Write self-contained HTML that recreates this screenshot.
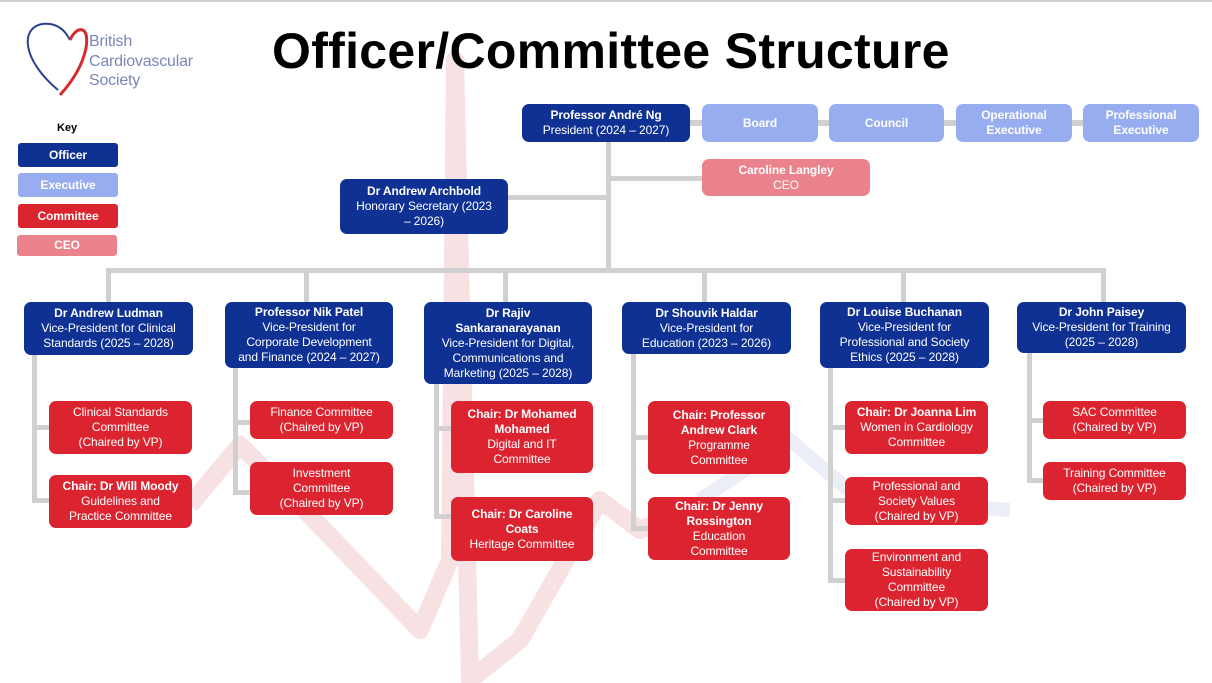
<!DOCTYPE html>
<html><head><meta charset="utf-8"><style>
*{margin:0;padding:0;box-sizing:border-box}
body{width:1212px;height:683px;position:relative;background:#fff;font-family:"Liberation Sans",sans-serif;overflow:hidden}
.b{position:absolute;border-radius:7px;color:#fff;font-size:12px;line-height:15px;text-align:center;display:flex;flex-direction:column;justify-content:center;align-items:center;white-space:nowrap;letter-spacing:-0.1px}
.b b{font-weight:bold}
.o{background:#0f3193}.e{background:#98adf0;font-weight:bold}.c{background:#dc2430}.ceo{background:#ea838b}
.l{position:absolute;background:#d0d0d0}
</style></head><body>
<div class="l" style="left:0;top:0;width:1212px;height:2px;background:#cfcfcf"></div>
<svg style="position:absolute;left:0;top:0" width="1212" height="683">
<g fill="none" stroke="#f7e1e3" stroke-width="18" stroke-linejoin="round">
<polyline points="190,505 240,445 300,505 420,630 450,560 455,60 470,680 520,640 600,500 640,530 700,505"/>
</g>
<g fill="none" stroke="#eceef7" stroke-width="14">
<polyline points="700,500 790,440 860,500 1010,510"/>
</g>
<path d="M58,90 C22,60 20,28 42,24 C58,22 66,32 70,40" fill="none" stroke="#2a3f8f" stroke-width="2"/>
<path d="M70,40 C76,26 90,24 86,48 C82,68 70,84 60,95" fill="none" stroke="#d42a30" stroke-width="3"/>
</svg>
<div style="position:absolute;left:89px;top:32px;color:#7c86b8;font-size:16px;line-height:19.5px;letter-spacing:-0.2px">British<br>Cardiovascular<br>Society</div>
<div style="position:absolute;left:272px;top:22px;font-size:50px;font-weight:bold;color:#000;letter-spacing:0.3px">Officer/Committee Structure</div>
<div style="position:absolute;left:57px;top:122px;font-size:11px;font-weight:bold">Key</div>
<div class="b o" style="left:18px;top:143px;width:100px;height:24px;border-radius:3px"><b>Officer</b></div>
<div class="b e" style="left:18px;top:173px;width:100px;height:24px;border-radius:3px">Executive</div>
<div class="b c" style="left:18px;top:204px;width:100px;height:24px;border-radius:3px"><b>Committee</b></div>
<div class="b ceo" style="left:17px;top:235px;width:100px;height:21px;border-radius:3px"><b>CEO</b></div>

<div class="l" style="left:690px;top:120px;width:400px;height:6px"></div>
<div class="l" style="left:606px;top:142px;width:5px;height:130px"></div>
<div class="l" style="left:608px;top:176px;width:94px;height:5px"></div>
<div class="l" style="left:508px;top:195px;width:100px;height:5px"></div>
<div class="l" style="left:106px;top:268px;width:1000px;height:5px"></div>
<div class="l" style="left:106px;top:270px;width:5px;height:32px"></div>
<div class="l" style="left:304px;top:270px;width:5px;height:32px"></div>
<div class="l" style="left:503px;top:270px;width:5px;height:32px"></div>
<div class="l" style="left:702px;top:270px;width:5px;height:32px"></div>
<div class="l" style="left:901px;top:270px;width:5px;height:32px"></div>
<div class="l" style="left:1101px;top:270px;width:5px;height:32px"></div>
<div class="l" style="left:32px;top:355px;width:5px;height:148px"></div>
<div class="l" style="left:32px;top:425px;width:18px;height:5px"></div>
<div class="l" style="left:32px;top:498px;width:18px;height:5px"></div>
<div class="l" style="left:233px;top:368px;width:5px;height:127px"></div>
<div class="l" style="left:233px;top:420px;width:18px;height:5px"></div>
<div class="l" style="left:233px;top:490px;width:18px;height:5px"></div>
<div class="l" style="left:434px;top:384px;width:5px;height:135px"></div>
<div class="l" style="left:434px;top:426px;width:18px;height:5px"></div>
<div class="l" style="left:434px;top:514px;width:18px;height:5px"></div>
<div class="l" style="left:631px;top:354px;width:5px;height:177px"></div>
<div class="l" style="left:631px;top:435px;width:18px;height:5px"></div>
<div class="l" style="left:631px;top:526px;width:18px;height:5px"></div>
<div class="l" style="left:828px;top:368px;width:5px;height:215px"></div>
<div class="l" style="left:828px;top:425px;width:18px;height:5px"></div>
<div class="l" style="left:828px;top:498px;width:18px;height:5px"></div>
<div class="l" style="left:828px;top:578px;width:18px;height:5px"></div>
<div class="l" style="left:1027px;top:353px;width:5px;height:130px"></div>
<div class="l" style="left:1027px;top:418px;width:18px;height:5px"></div>
<div class="l" style="left:1027px;top:478px;width:18px;height:5px"></div>

<div class="b o" style="left:522px;top:104px;width:168px;height:38px"><b>Professor André Ng</b>President (2024 – 2027)</div>
<div class="b e" style="left:702px;top:104px;width:116px;height:38px">Board</div>
<div class="b e" style="left:829px;top:104px;width:115px;height:38px">Council</div>
<div class="b e" style="left:956px;top:104px;width:116px;height:38px">Operational<br>Executive</div>
<div class="b e" style="left:1083px;top:104px;width:116px;height:38px">Professional<br>Executive</div>
<div class="b ceo" style="left:702px;top:159px;width:168px;height:37px"><b>Caroline Langley</b>CEO</div>
<div class="b o" style="left:340px;top:179px;width:168px;height:55px"><b>Dr Andrew Archbold</b>Honorary Secretary (2023<br>– 2026)</div>

<div class="b o" style="left:24px;top:302px;width:169px;height:53px"><b>Dr Andrew Ludman</b>Vice-President for Clinical<br>Standards (2025 – 2028)</div>
<div class="b o" style="left:225px;top:302px;width:168px;height:66px"><b>Professor Nik Patel</b>Vice-President for<br>Corporate Development<br>and Finance (2024 – 2027)</div>
<div class="b o" style="left:424px;top:302px;width:168px;height:82px"><b>Dr Rajiv</b><b>Sankaranarayanan</b>Vice-President for Digital,<br>Communications and<br>Marketing (2025 – 2028)</div>
<div class="b o" style="left:622px;top:302px;width:169px;height:52px"><b>Dr Shouvik Haldar</b>Vice-President for<br>Education (2023 – 2026)</div>
<div class="b o" style="left:820px;top:302px;width:169px;height:66px"><b>Dr Louise Buchanan</b>Vice-President for<br>Professional and Society<br>Ethics (2025 – 2028)</div>
<div class="b o" style="left:1017px;top:302px;width:169px;height:51px"><b>Dr John Paisey</b>Vice-President for Training<br>(2025 – 2028)</div>

<div class="b c" style="left:49px;top:401px;width:143px;height:53px">Clinical Standards<br>Committee<br>(Chaired by VP)</div>
<div class="b c" style="left:49px;top:475px;width:143px;height:53px"><b>Chair: Dr Will Moody</b>Guidelines and<br>Practice Committee</div>
<div class="b c" style="left:250px;top:401px;width:143px;height:38px">Finance Committee<br>(Chaired by VP)</div>
<div class="b c" style="left:250px;top:462px;width:143px;height:53px">Investment<br>Committee<br>(Chaired by VP)</div>
<div class="b c" style="left:451px;top:401px;width:142px;height:72px"><b>Chair: Dr Mohamed</b><b>Mohamed</b>Digital and IT<br>Committee</div>
<div class="b c" style="left:451px;top:497px;width:142px;height:64px"><b>Chair: Dr Caroline</b><b>Coats</b>Heritage Committee</div>
<div class="b c" style="left:648px;top:401px;width:142px;height:73px"><b>Chair: Professor</b><b>Andrew Clark</b>Programme<br>Committee</div>
<div class="b c" style="left:648px;top:497px;width:142px;height:63px"><b>Chair: Dr Jenny</b><b>Rossington</b>Education<br>Committee</div>
<div class="b c" style="left:845px;top:401px;width:143px;height:53px"><b>Chair: Dr Joanna Lim</b>Women in Cardiology<br>Committee</div>
<div class="b c" style="left:845px;top:477px;width:143px;height:48px">Professional and<br>Society Values<br>(Chaired by VP)</div>
<div class="b c" style="left:845px;top:549px;width:143px;height:62px">Environment and<br>Sustainability<br>Committee<br>(Chaired by VP)</div>
<div class="b c" style="left:1043px;top:401px;width:143px;height:38px">SAC Committee<br>(Chaired by VP)</div>
<div class="b c" style="left:1043px;top:462px;width:143px;height:38px">Training Committee<br>(Chaired by VP)</div>
</body></html>
